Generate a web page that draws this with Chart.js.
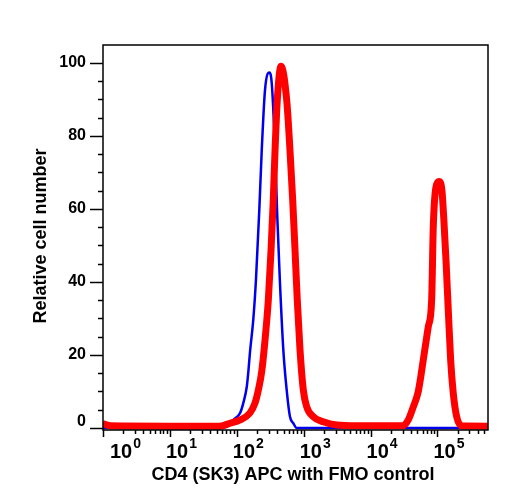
<!DOCTYPE html>
<html>
<head>
<meta charset="utf-8">
<script src="https://cdn.jsdelivr.net/npm/chart.js@4/dist/chart.umd.min.js"></script>
<style>
  body { margin: 0; background: #fff; }
  #wrap { width: 508px; height: 500px; position: relative; }
</style>
</head>
<body>
<div id="wrap"><canvas id="grafico1"></canvas></div>
<script>
// FMO control (blue) - fluorescence vs relative count
var fmoX = [1, 50, 70, 79, 89, 112, 125, 141, 149, 157, 177, 194, 217, 236, 264, 306, 333, 373, 403, 442, 496, 557, 624, 700, 786, 569000];
var fmoY = [0, 0, 0.3, 1.0, 2.2, 4.1, 6.8, 11.3, 15.5, 20.5, 30, 41, 59.7, 76, 92.5, 97.3, 94.4, 76, 57.8, 39.7, 21.4, 10.4, 3.1, 1.3, 0, 0];

// CD4 (SK3) APC stained (red)
var cd4X = [1, 1.3, 10, 56, 79, 112, 157, 187, 210, 236, 264, 296, 325, 351, 373, 403, 458, 557, 624, 685, 742, 802, 881, 987, 1109, 1391, 1963, 3113, 6200, 30500, 36600, 43500, 51600, 61300, 72800, 81800, 86500, 95000, 105500, 116600, 124500, 134000, 145000, 157400, 172200, 193700, 230000, 569000];
var cd4Y = [1.2, 0.6, 0.5, 0.5, 1.3, 2.2, 4.1, 6.8, 10.4, 15.5, 24, 35, 48.7, 62.4, 76, 89.8, 99, 89.8, 76, 62.4, 48.7, 35, 21.4, 10.4, 5.8, 3.1, 1.7, 0.8, 0.6, 0.6, 2.2, 5.8, 10, 18.6, 27.7, 35, 55, 66, 67.5, 65, 57, 46, 32.3, 18.6, 9.5, 3.1, 0.6, 0.5];

var xTickExps = [0, 1, 2, 3, 4, 5];
var yTickLabels = [0, 20, 40, 60, 80, 100];
var xTitle = 'CD4 (SK3) APC with FMO control';
var yTitle = 'Relative cell number';

var FONT = '"Liberation Sans", Arial, sans-serif';

function toPoints(xs, ys) {
  var pts = [];
  for (var i in xs) pts.push({x: xs[i], y: ys[i]});
  return pts;
}

var axesPlugin = {
  id: 'flowAxes',
  afterDatasetsDraw: function(chart) {
    var ctx = chart.ctx, a = chart.chartArea;
    var sx = chart.scales.x, sy = chart.scales.y;
    ctx.save();
    ctx.strokeStyle = '#000';
    ctx.fillStyle = '#000';
    ctx.lineWidth = 1.5;
    ctx.strokeRect(a.left, a.top, a.right - a.left, a.bottom - a.top);

    // y ticks: minor every 5, major every 20
    ctx.lineWidth = 1.5;
    for (var v = 0; v <= 100; v += 5) {
      var py = Math.round(sy.getPixelForValue(v)) + 0.5;
      var len = (v % 20 === 0) ? 13 : 5;
      ctx.beginPath();
      ctx.moveTo(a.left - len, py);
      ctx.lineTo(a.left, py);
      ctx.stroke();
    }
    ctx.font = 'bold 16px ' + FONT;
    ctx.textAlign = 'right';
    ctx.textBaseline = 'middle';
    yTickLabels.forEach(function(t) {
      var py = sy.getPixelForValue(t);
      if (t === 0) py -= 6;
      ctx.fillText(String(t), a.left - 17, py);
    });

    // x ticks: log decades with minor ticks 2..9
    var xmax = sx.max;
    for (var e = 0; e <= 5; e++) {
      for (var k = 1; k <= 9; k++) {
        var val = k * Math.pow(10, e);
        if (val > xmax) break;
        var px = Math.round(sx.getPixelForValue(val)) + 0.5;
        var l = (k === 1) ? 7 : 4;
        ctx.beginPath();
        ctx.moveTo(px, a.bottom);
        ctx.lineTo(px, a.bottom + l);
        ctx.stroke();
      }
    }
    ctx.textAlign = 'left';
    ctx.textBaseline = 'alphabetic';
    xTickExps.forEach(function(e) {
      var px = sx.getPixelForValue(Math.pow(10, e));
      var left = Math.max(px - 4, a.left + 7);
      ctx.font = 'bold 20px ' + FONT;
      ctx.fillText('10', left, 458);
      var w = ctx.measureText('10').width;
      ctx.font = 'bold 14px ' + FONT;
      ctx.fillText(String(e), left + w + 1, 448);
    });

    // axis titles
    ctx.font = 'bold 18px ' + FONT;
    ctx.textAlign = 'center';
    ctx.fillText(xTitle, 293, 480);
    ctx.save();
    ctx.translate(46, 236);
    ctx.rotate(-Math.PI / 2);
    ctx.fillText(yTitle, 0, 0);
    ctx.restore();
    ctx.restore();
  }
};

var chartdata = {
  datasets: [
    {
      label: 'CD4 (SK3) APC',
      data: toPoints(cd4X, cd4Y),
      borderColor: '#ff0000',
      borderWidth: 7,
      fill: false,
      pointRadius: 0,
      cubicInterpolationMode: 'monotone',
      order: 0
    },
    {
      label: 'FMO control',
      data: toPoints(fmoX, fmoY),
      borderColor: '#0000ee',
      borderWidth: 2.5,
      fill: false,
      pointRadius: 0,
      cubicInterpolationMode: 'monotone',
      order: 1
    }
  ]
};

var ctx = document.getElementById('grafico1');
var line = new Chart(ctx, {
  type: 'line',
  data: chartdata,
  plugins: [axesPlugin],
  options: {
    responsive: true,
    maintainAspectRatio: false,
    animation: false,
    layout: { padding: { left: 103, top: 45, right: 20, bottom: 70 } },
    plugins: { legend: { display: false }, tooltip: { enabled: false } },
    scales: {
      x: { type: 'logarithmic', min: 1, max: 569000, display: false },
      y: { type: 'linear', min: -0.55, max: 104.85, display: false }
    }
  }
});
</script>
</body>
</html>
